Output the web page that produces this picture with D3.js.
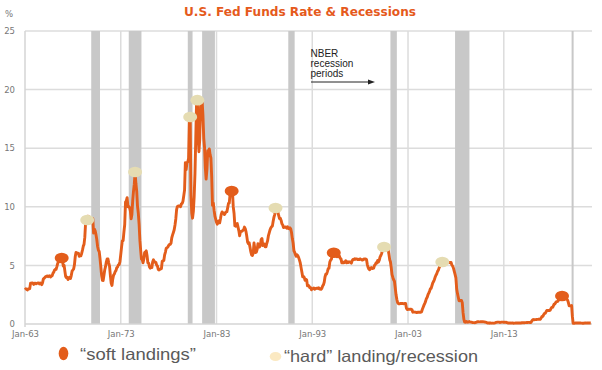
<!DOCTYPE html>
<html>
<head>
<meta charset="utf-8">
<script src="https://cdn.jsdelivr.net/npm/d3@7"></script>
<style>
  body { margin: 0; background: #fff; }
  svg { display: block; }
</style>
</head>
<body>
<div id="chart"></div>
<script>
// monthly effective fed funds rate, one row per year starting Jan 1963
const firstYear = 1963;
const fedFunds = [
  [2.92, 3.00, 2.96, 2.90, 3.00, 2.99, 3.02, 3.49, 3.48, 3.50, 3.48, 3.38],
  [3.48, 3.48, 3.43, 3.47, 3.50, 3.50, 3.42, 3.50, 3.45, 3.36, 3.52, 3.85],
  [3.90, 3.98, 4.04, 4.09, 4.10, 4.04, 4.09, 4.12, 4.01, 4.08, 4.10, 4.32],
  [4.42, 4.60, 4.65, 4.67, 4.90, 5.17, 5.30, 5.53, 5.40, 5.53, 5.76, 5.40],
  [4.94, 5.00, 4.53, 4.05, 3.94, 3.98, 3.79, 3.90, 3.99, 3.88, 4.13, 4.51],
  [4.61, 4.71, 5.05, 5.76, 6.11, 6.07, 6.02, 6.03, 5.78, 5.91, 5.82, 6.02],
  [6.30, 6.64, 6.79, 7.41, 8.67, 8.90, 8.61, 9.19, 9.15, 9.00, 8.85, 8.97],
  [8.98, 8.98, 7.76, 8.10, 7.95, 7.61, 7.21, 6.61, 6.29, 6.20, 5.60, 4.90],
  [4.14, 3.72, 3.71, 4.16, 4.63, 4.91, 5.31, 5.56, 5.55, 5.20, 4.91, 4.14],
  [3.50, 3.29, 3.83, 4.17, 4.27, 4.46, 4.55, 4.80, 4.87, 5.04, 5.06, 5.33],
  [5.94, 6.58, 7.09, 7.12, 7.84, 8.49, 10.40, 10.50, 10.78, 10.01, 10.03, 9.95],
  [9.65, 8.97, 9.35, 10.51, 11.31, 11.93, 12.92, 12.01, 11.34, 10.06, 9.45, 8.53],
  [7.13, 6.24, 5.54, 5.49, 5.22, 5.55, 6.10, 6.14, 6.24, 5.82, 5.22, 5.20],
  [4.87, 4.77, 4.84, 4.82, 5.29, 5.48, 5.31, 5.29, 5.25, 5.02, 4.95, 4.65],
  [4.61, 4.68, 4.69, 4.73, 5.35, 5.39, 5.42, 5.90, 6.14, 6.47, 6.51, 6.56],
  [6.70, 6.78, 6.79, 6.89, 7.36, 7.60, 7.81, 8.04, 8.45, 8.96, 9.76, 10.03],
  [10.07, 10.06, 10.09, 10.01, 10.24, 10.29, 10.47, 10.94, 11.43, 13.77, 13.18, 13.78],
  [13.82, 14.13, 17.19, 17.61, 10.98, 9.47, 9.03, 9.61, 10.87, 12.81, 15.85, 18.90],
  [19.08, 15.93, 14.70, 15.72, 18.52, 19.10, 19.04, 17.82, 15.87, 15.08, 13.31, 12.37],
  [13.22, 14.78, 14.68, 14.94, 14.45, 14.15, 12.59, 10.12, 10.31, 9.71, 9.20, 8.95],
  [8.68, 8.51, 8.77, 8.80, 8.63, 8.98, 9.37, 9.56, 9.45, 9.48, 9.34, 9.47],
  [9.56, 9.59, 9.91, 10.29, 10.32, 11.06, 11.23, 11.64, 11.30, 9.99, 9.43, 8.38],
  [8.35, 8.50, 8.58, 8.27, 7.97, 7.53, 7.88, 7.90, 7.92, 7.99, 8.05, 8.27],
  [8.14, 7.86, 7.48, 6.99, 6.85, 6.92, 6.56, 6.17, 5.89, 5.85, 6.04, 6.91],
  [6.43, 6.10, 6.13, 6.37, 6.85, 6.73, 6.58, 6.73, 7.22, 7.29, 6.69, 6.77],
  [6.83, 6.58, 6.58, 6.87, 7.09, 7.51, 7.75, 8.01, 8.19, 8.30, 8.35, 8.76],
  [9.12, 9.36, 9.85, 9.84, 9.81, 9.53, 9.24, 8.99, 9.02, 8.84, 8.55, 8.45],
  [8.23, 8.24, 8.28, 8.26, 8.18, 8.29, 8.15, 8.13, 8.20, 8.11, 7.81, 7.31],
  [6.91, 6.25, 6.12, 5.91, 5.78, 5.90, 5.82, 5.66, 5.45, 5.21, 4.81, 4.43],
  [4.03, 4.06, 3.98, 3.73, 3.82, 3.76, 3.25, 3.30, 3.22, 3.10, 3.09, 2.92],
  [3.02, 3.03, 3.07, 2.96, 3.00, 3.04, 3.06, 3.03, 3.09, 2.99, 3.02, 2.96],
  [3.05, 3.25, 3.34, 3.56, 4.01, 4.25, 4.26, 4.47, 4.73, 4.76, 5.29, 5.45],
  [5.53, 5.92, 5.98, 6.05, 6.01, 6.00, 5.85, 5.74, 5.80, 5.76, 5.80, 5.60],
  [5.56, 5.22, 5.31, 5.22, 5.24, 5.27, 5.40, 5.22, 5.30, 5.24, 5.31, 5.29],
  [5.25, 5.19, 5.39, 5.51, 5.50, 5.56, 5.52, 5.54, 5.54, 5.50, 5.52, 5.50],
  [5.56, 5.51, 5.49, 5.45, 5.49, 5.56, 5.54, 5.55, 5.51, 5.07, 4.83, 4.68],
  [4.63, 4.76, 4.81, 4.74, 4.74, 4.76, 4.99, 5.07, 5.22, 5.20, 5.42, 5.30],
  [5.45, 5.73, 5.85, 6.02, 6.27, 6.53, 6.54, 6.50, 6.52, 6.51, 6.51, 6.40],
  [5.98, 5.49, 5.31, 4.80, 4.21, 3.97, 3.77, 3.65, 3.07, 2.49, 2.09, 1.82],
  [1.73, 1.74, 1.73, 1.75, 1.75, 1.75, 1.73, 1.74, 1.75, 1.75, 1.34, 1.24],
  [1.24, 1.26, 1.25, 1.26, 1.26, 1.22, 1.01, 1.03, 1.01, 1.01, 1.00, 0.98],
  [1.00, 1.01, 1.00, 1.00, 1.00, 1.03, 1.26, 1.43, 1.61, 1.76, 1.93, 2.16],
  [2.28, 2.50, 2.63, 2.79, 3.00, 3.04, 3.26, 3.50, 3.62, 3.78, 4.00, 4.16],
  [4.29, 4.49, 4.59, 4.79, 4.94, 4.99, 5.24, 5.25, 5.25, 5.25, 5.25, 5.24],
  [5.25, 5.26, 5.26, 5.25, 5.25, 5.25, 5.26, 5.02, 4.94, 4.76, 4.49, 4.24],
  [3.94, 2.98, 2.61, 2.28, 1.98, 2.00, 2.01, 2.00, 1.81, 0.97, 0.39, 0.16],
  [0.15, 0.22, 0.18, 0.15, 0.18, 0.21, 0.16, 0.16, 0.15, 0.12, 0.12, 0.12],
  [0.11, 0.13, 0.16, 0.20, 0.20, 0.18, 0.18, 0.19, 0.19, 0.19, 0.19, 0.18],
  [0.17, 0.16, 0.14, 0.10, 0.09, 0.09, 0.07, 0.10, 0.08, 0.07, 0.08, 0.07],
  [0.08, 0.10, 0.13, 0.14, 0.16, 0.16, 0.16, 0.13, 0.14, 0.16, 0.16, 0.16],
  [0.14, 0.15, 0.14, 0.15, 0.11, 0.09, 0.09, 0.08, 0.08, 0.09, 0.08, 0.09],
  [0.07, 0.07, 0.08, 0.09, 0.09, 0.10, 0.09, 0.09, 0.09, 0.09, 0.09, 0.12],
  [0.11, 0.11, 0.11, 0.12, 0.12, 0.13, 0.13, 0.14, 0.14, 0.12, 0.12, 0.24],
  [0.34, 0.38, 0.36, 0.37, 0.37, 0.38, 0.39, 0.40, 0.40, 0.40, 0.41, 0.54],
  [0.65, 0.66, 0.79, 0.90, 0.91, 1.04, 1.15, 1.16, 1.15, 1.15, 1.16, 1.30],
  [1.41, 1.42, 1.51, 1.69, 1.70, 1.82, 1.91, 1.91, 1.95, 2.19, 2.20, 2.27],
  [2.40, 2.40, 2.41, 2.42, 2.39, 2.38, 2.40, 2.13, 2.04, 1.83, 1.55, 1.55],
  [1.55, 1.58, 0.65, 0.05, 0.05, 0.08, 0.09, 0.10, 0.09, 0.09, 0.09, 0.09],
  [0.09, 0.08, 0.07, 0.07, 0.06, 0.08, 0.10, 0.09, 0.08, 0.08, 0.08, 0.08],
  [0.08, 0.08]
];

// NBER recessions, start and end month
const recessions = [
  ["1969-12", "1970-11"],
  ["1973-11", "1975-03"],
  ["1980-01", "1980-07"],
  ["1981-07", "1982-11"],
  ["1990-07", "1991-03"],
  ["2001-03", "2001-11"],
  ["2007-12", "2009-06"],
  ["2020-02", "2020-04"]
];

const softLandings = [
  ["1966-11", 5.63],
  ["1984-08", 11.35],
  ["1995-04", 6.08],
  ["2019-02", 2.39]
];

const hardLandings = [
  ["1969-07", 8.87],
  ["1974-07", 12.97],
  ["1980-04", 17.66],
  ["1981-01", 19.1],
  ["1989-03", 9.9],
  ["2000-07", 6.57],
  ["2006-08", 5.29]
];

const yTicks = [0, 5, 10, 15, 20, 25];
const xTickYears = [1963, 1973, 1983, 1993, 2003, 2013];

const width = 602, height = 370;
const parseMonth = d3.timeParse("%Y-%m");

const series = [];
fedFunds.forEach((row, i) => {
  row.forEach((v, m) => series.push({ date: new Date(firstYear + i, m, 1), value: v }));
});

const x = d3.scaleTime()
  .domain([new Date(1963, 0, 1), new Date(2022, 2, 20)])
  .range([25, 592]);
const y = d3.scaleLinear().domain([0, 25]).range([324, 31]);

const svg = d3.select("#chart").append("svg")
  .attr("width", width).attr("height", height);

// gridlines
svg.append("g").selectAll("line").data(yTicks.filter(d => d > 0)).enter().append("line")
  .attr("x1", x.range()[0]).attr("x2", x.range()[1])
  .attr("y1", d => y(d)).attr("y2", d => y(d))
  .attr("stroke", "#dcdcdc").attr("stroke-width", 1.5);

svg.append("g").selectAll("line").data(xTickYears.slice(1)).enter().append("line")
  .attr("x1", d => x(new Date(d, 0, 1))).attr("x2", d => x(new Date(d, 0, 1)))
  .attr("y1", y(25)).attr("y2", y(0))
  .attr("stroke", "#dcdcdc").attr("stroke-width", 1.5);

// recession bands
svg.append("g").selectAll("rect").data(recessions).enter().append("rect")
  .attr("x", d => x(parseMonth(d[0])))
  .attr("width", d => Math.max(2, x(parseMonth(d[1])) - x(parseMonth(d[0]))))
  .attr("y", y(25)).attr("height", y(0) - y(25))
  .attr("fill", "#c8c8c8");

// axis lines
svg.append("line").attr("x1", 25).attr("x2", 25).attr("y1", y(25)).attr("y2", y(0) + 3)
  .attr("stroke", "#d4d4d4").attr("stroke-width", 1.5);
svg.append("line").attr("x1", 25).attr("x2", 592).attr("y1", y(0)).attr("y2", y(0))
  .attr("stroke", "#d4d4d4").attr("stroke-width", 1.5);

// tick labels
const yAxis = d3.axisLeft(y).tickValues(yTicks).tickSize(0).tickPadding(10);
const gy = svg.append("g").attr("transform", "translate(25,0)").call(yAxis);
gy.select(".domain").remove();
gy.selectAll("text").attr("font-family", "DejaVu Sans").attr("font-size", 8.5).attr("fill", "#777");

const xAxis = d3.axisBottom(x)
  .tickValues(xTickYears.map(d => new Date(d, 0, 1)))
  .tickFormat(d3.timeFormat("%b-%y")).tickSize(0).tickPadding(7);
const gx = svg.append("g").attr("transform", `translate(0,${y(0)})`).call(xAxis);
gx.select(".domain").remove();
gx.selectAll("text").attr("font-family", "DejaVu Sans").attr("font-size", 8.5).attr("fill", "#777");

svg.append("text").attr("x", 5).attr("y", 17).text("%")
  .attr("font-family", "DejaVu Sans").attr("font-size", 8.5).attr("fill", "#777");

// rate line
const line = d3.line().x(d => x(d.date)).y(d => y(d.value));
svg.append("path").datum(series)
  .attr("d", line).attr("fill", "none")
  .attr("stroke", "#e35d1b").attr("stroke-width", 2.9).attr("stroke-linejoin", "round");

// markers
svg.append("g").selectAll("ellipse").data(hardLandings).enter().append("ellipse")
  .attr("cx", d => x(parseMonth(d[0]))).attr("cy", d => y(d[1]))
  .attr("rx", 7).attr("ry", 5.3).attr("fill", "#e5dcb2");

svg.append("g").selectAll("ellipse").data(softLandings).enter().append("ellipse")
  .attr("cx", d => x(parseMonth(d[0]))).attr("cy", d => y(d[1]))
  .attr("rx", 7).attr("ry", 5.3).attr("fill", "#e35d1b");

// title
svg.append("text").attr("x", 184).attr("y", 16)
  .attr("font-family", "DejaVu Sans").attr("font-weight", "bold").attr("font-size", 12)
  .attr("textLength", 232).attr("lengthAdjust", "spacingAndGlyphs")
  .attr("fill", "#e55a1c").text("U.S. Fed Funds Rate & Recessions");

// NBER annotation
const note = svg.append("text").attr("font-family", "Liberation Sans").attr("font-size", 10).attr("fill", "#222");
["NBER", "recession", "periods"].forEach((t, i) => {
  note.append("tspan").attr("x", 310.5).attr("y", 57 + i * 10).text(t);
});
svg.append("line").attr("x1", 311).attr("x2", 368).attr("y1", 82).attr("y2", 82)
  .attr("stroke", "#222").attr("stroke-width", 1);
svg.append("path").attr("d", "M368,79.5 L375,82 L368,84.5 Z").attr("fill", "#222");

// legend
svg.append("ellipse").attr("cx", 63.5).attr("cy", 353.5).attr("rx", 4.8).attr("ry", 6.8).attr("fill", "#e35d1b");
svg.append("text").attr("x", 80).attr("y", 360)
  .attr("font-family", "Liberation Sans").attr("font-size", 16.5)
  .attr("textLength", 116).attr("lengthAdjust", "spacingAndGlyphs")
  .attr("fill", "#5a5a5a").text("\u201csoft landings\u201d");

svg.append("ellipse").attr("cx", 275.5).attr("cy", 356.5).attr("rx", 5.8).attr("ry", 4.6).attr("fill", "#fbe9c2");
svg.append("text").attr("x", 284).attr("y", 362)
  .attr("font-family", "Liberation Sans").attr("font-size", 16.5)
  .attr("textLength", 194).attr("lengthAdjust", "spacingAndGlyphs")
  .attr("fill", "#5a5a5a").text("\u201chard\u201d landing/recession");
</script>
</body>
</html>
